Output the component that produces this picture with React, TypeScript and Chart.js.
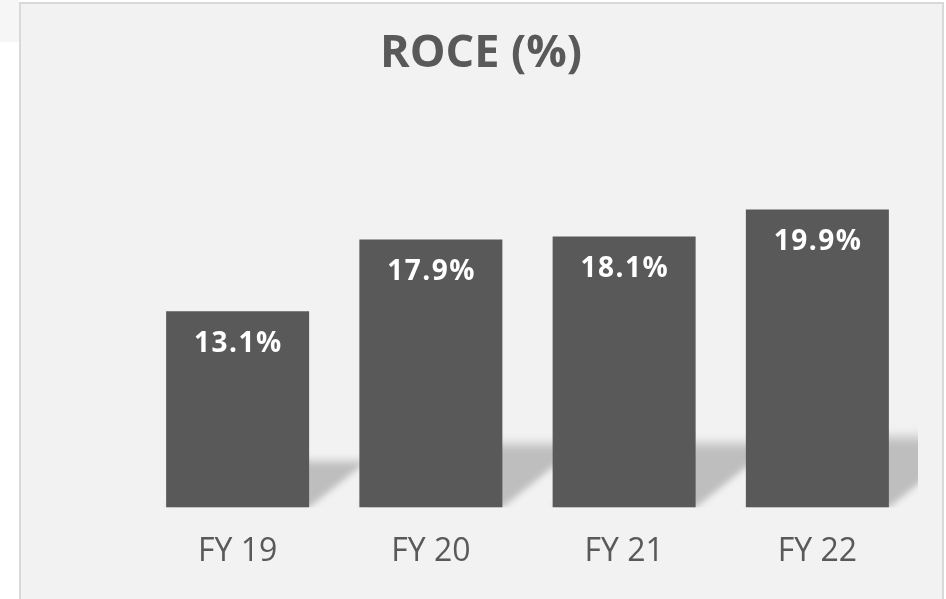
import React, { useEffect, useRef } from "react";
import { Chart, registerables } from "chart.js";

Chart.register(...registerables);

const categories = ["FY 19", "FY 20", "FY 21", "FY 22"];
const roceValues = [13.1, 17.9, 18.1, 19.9];
const valueLabels = ["13.1%", "17.9%", "18.1%", "19.9%"];
const titleText = "ROCE (%)";
const yMin = 0;
const yMax = 25;

const BAR_COLOR = "#595959";
const TEXT_COLOR = "#595959";
const FONT = "'Open Sans', 'Noto Sans', sans-serif";

const shadowPlugin = {
  id: "barShadow",
  beforeDatasetsDraw(chart: any) {
    const ctx = chart.ctx as CanvasRenderingContext2D;
    const area = chart.chartArea;
    const meta = chart.getDatasetMeta(0);
    ctx.save();
    ctx.beginPath();
    ctx.rect(area.left, area.top, area.right - area.left + 4, area.bottom - area.top);
    ctx.clip();
    ctx.filter = "blur(3px)";
    meta.data.forEach((bar: any) => {
      const p = bar.getProps(["x", "y", "base", "width"], true);
      const L = p.x - p.width / 2;
      const R = p.x + p.width / 2;
      const B = p.base;
      const H = B - p.y;
      const h = 0.26 * H;
      const k = 1.25;
      const g = ctx.createLinearGradient(0, B - h, 0, B);
      g.addColorStop(0, "rgba(190,190,190,0)");
      g.addColorStop(0.18, "rgba(190,190,190,1)");
      g.addColorStop(1, "rgba(190,190,190,1)");
      ctx.fillStyle = g;
      ctx.beginPath();
      ctx.moveTo(L, B);
      ctx.lineTo(R, B);
      ctx.lineTo(R + k * h, B - h);
      ctx.lineTo(L + k * h, B - h);
      ctx.closePath();
      ctx.fill();
    });
    ctx.restore();
  },
};

const labelPlugin = {
  id: "valueLabels",
  afterDatasetsDraw(chart: any) {
    const ctx = chart.ctx as CanvasRenderingContext2D;
    const meta = chart.getDatasetMeta(0);
    ctx.save();
    ctx.fillStyle = "#ffffff";
    ctx.font = `bold 28px ${FONT}`;
    (ctx as any).letterSpacing = "1.5px";
    ctx.textAlign = "center";
    ctx.textBaseline = "middle";
    meta.data.forEach((bar: any, i: number) => {
      const p = bar.getProps(["x", "y"], true);
      ctx.fillText(valueLabels[i], p.x + 0.75, p.y + 33);
    });
    ctx.restore();
  },
};

const hiddenAxis = (width: number, position: "left" | "right") => ({
  display: true,
  position,
  grid: { display: false, drawTicks: false },
  border: { display: false },
  ticks: { display: false },
  afterFit(scale: any) {
    scale.width = width;
  },
});

export default function App() {
  const canvasRef = useRef<HTMLCanvasElement | null>(null);

  useEffect(() => {
    if (!canvasRef.current) return;
    const chart = new Chart(canvasRef.current, {
      type: "bar",
      data: {
        labels: categories,
        datasets: [
          {
            data: roceValues,
            backgroundColor: BAR_COLOR,
            borderWidth: 0,
            categoryPercentage: 1,
            barPercentage: 0.74,
            yAxisID: "y",
          },
        ],
      },
      options: {
        animation: false,
        responsive: false,
        maintainAspectRatio: false,
        layout: { padding: { left: 16, right: 0, top: 0, bottom: 3 } },
        plugins: {
          legend: { display: false },
          tooltip: { enabled: false },
          title: {
            display: true,
            text: titleText,
            color: TEXT_COLOR,
            font: { family: FONT, size: 45, weight: "bold" },
            padding: { top: 27, bottom: 52 },
          },
        },
        scales: {
          x: {
            grid: { display: false, drawTicks: false },
            border: { display: false },
            ticks: {
              color: TEXT_COLOR,
              font: { family: FONT, size: 32 },
              padding: 25,
            },
          },
          y: {
            ...hiddenAxis(125, "left"),
            min: yMin,
            max: yMax,
          },
          y2: {
            ...hiddenAxis(32, "right"),
            min: yMin,
            max: yMax,
          },
        },
      },
      plugins: [shadowPlugin, labelPlugin],
    });
    return () => chart.destroy();
  }, []);

  return (
    <div style={{ position: "fixed", left: 0, top: 0, width: 946, height: 599, background: "#ffffff", overflow: "hidden" }}>
      <div style={{ position: "absolute", left: 0, top: 0, width: 19, height: 42, background: "#f6f6f6" }} />
      <div
        style={{
          position: "absolute",
          left: 19,
          top: 2,
          width: 921,
          height: 620,
          background: "#f2f2f2",
          border: "2px solid #d9d9d9",
        }}
      />
      <canvas
        ref={canvasRef}
        width={946}
        height={599}
        style={{ position: "absolute", left: 0, top: 0, width: 946, height: 599 }}
      />
    </div>
  );
}
